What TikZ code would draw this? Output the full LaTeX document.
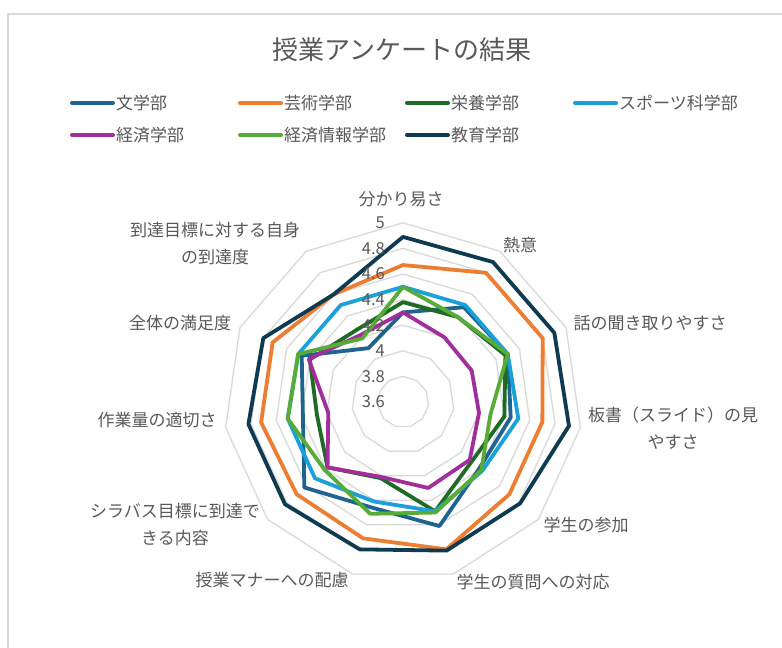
\documentclass[tikz,border=0pt]{standalone}
\usepackage{fontspec}
\setmainfont{Noto Sans CJK JP}
\definecolor{txtgray}{HTML}{595959}
\definecolor{gridgray}{HTML}{D9D9D9}
\definecolor{bungaku}{HTML}{1F6391}
\definecolor{geijutsu}{HTML}{ED7D31}
\definecolor{eiyou}{HTML}{1E6B26}
\definecolor{sports}{HTML}{1BA1DA}
\definecolor{keizai}{HTML}{A22D9C}
\definecolor{keijou}{HTML}{57AB37}
\definecolor{kyouiku}{HTML}{0E3B52}
\tikzset{
  lbl/.style={text=txtgray,font=\fontsize{17}{27}\selectfont,inner sep=0pt,align=center},
  vlbl/.style={text=txtgray,font=\fontsize{16.5}{18}\selectfont,inner sep=0pt,anchor=east},
  ring/.style={draw=gridgray,line width=1.3pt},
  serie/.style={line width=3.8pt,line join=round},
  keyline/.style={line width=4pt,line cap=round}
}
\begin{document}
\begin{tikzpicture}[x=1pt,y=-1pt]
  \useasboundingbox (0,0) rectangle (782,648);
  \fill[white] (0,0) rectangle (782,648);
  \draw[gridgray,line width=1.5pt] (782,14) -- (8,14) -- (8,648);
  \node[text=txtgray,font=\fontsize{26}{30}\selectfont,inner sep=0pt] (title) at (402,50) {授業アンケートの結果};
  \foreach \x/\y/\c/\t [count=\n] in {72/103/bungaku/文学部,240/103/geijutsu/芸術学部,407/103/eiyou/栄養学部,575/103/sports/スポーツ科学部,72/135/keizai/経済学部,240/135/keijou/経済情報学部,407/135/kyouiku/教育学部} {
    \draw[keyline,\c] (\x,\y) -- (\x+41,\y);
    \node[lbl,anchor=west] (k\n) at (\x+44,\y) {\t};
  }
  \begin{scope}[shift={(403,402)}]
    \foreach \i in {1,...,7}
      \draw[ring] (-90:{\i*25.6}) \foreach \k in {1,...,10} { -- ({\k*360/11-90}:{\i*25.6}) } -- cycle;
    \foreach \c/\f/\r in {bungaku/4.30/{4.48,4.50,4.45,4.39,4.61,4.46,4.62,4.39,4.47,4.10},
        geijutsu/4.67/{4.80,4.80,4.70,4.70,4.80,4.71,4.70,4.72,4.72,4.60},
        eiyou/4.38/{4.39,4.48,4.40,4.31,4.49,4.22,4.38,4.28,4.40,4.27},
        sports/4.50/{4.50,4.50,4.51,4.42,4.49,4.41,4.51,4.51,4.50,4.50},
        keizai/4.30/{4.20,4.19,4.20,4.29,4.30,4.21,4.38,4.19,4.41,4.22},
        keijou/4.50/{4.39,4.50,4.29,4.41,4.50,4.51,4.41,4.51,4.50,4.19},
        kyouiku/4.89/{4.90,4.90,4.91,4.81,4.81,4.80,4.82,4.82,4.80,4.60}}
      \draw[serie,\c] (-90:{(\f-3.6)*128}) \foreach \v [count=\k] in \r { -- ({\k*360/11-90}:{(\v-3.6)*128}) } -- cycle;
  \end{scope}
  \foreach \i/\t in {0/3.6,1/3.8,2/4,3/4.2,4/4.4,5/4.6,6/4.8,7/5}
    \node[vlbl] (v\i) at (385,{402-\i*25.6}) {\t};
  \node[lbl] (a0) at (401,199) {分かり易さ};
  \node[lbl] (a1) at (520,245) {熱意};
  \node[lbl] (a2) at (650,323) {話の聞き取りやすさ};
  \node[lbl] (a3) at (673,428) {板書（スライド）の見\\やすさ};
  \node[lbl] (a4) at (586,525) {学生の参加};
  \node[lbl] (a5) at (533,582) {学生の質問への対応};
  \node[lbl] (a6) at (272,580) {授業マナーへの配慮};
  \node[lbl] (a7) at (175,525) {シラバス目標に到達で\\きる内容};
  \node[lbl] (a8) at (157,420) {作業量の適切さ};
  \node[lbl] (a9) at (180,323) {全体の満足度};
  \node[lbl] (a10) at (215,244) {到達目標に対する自身\\の到達度};
\end{tikzpicture}
\end{document}
